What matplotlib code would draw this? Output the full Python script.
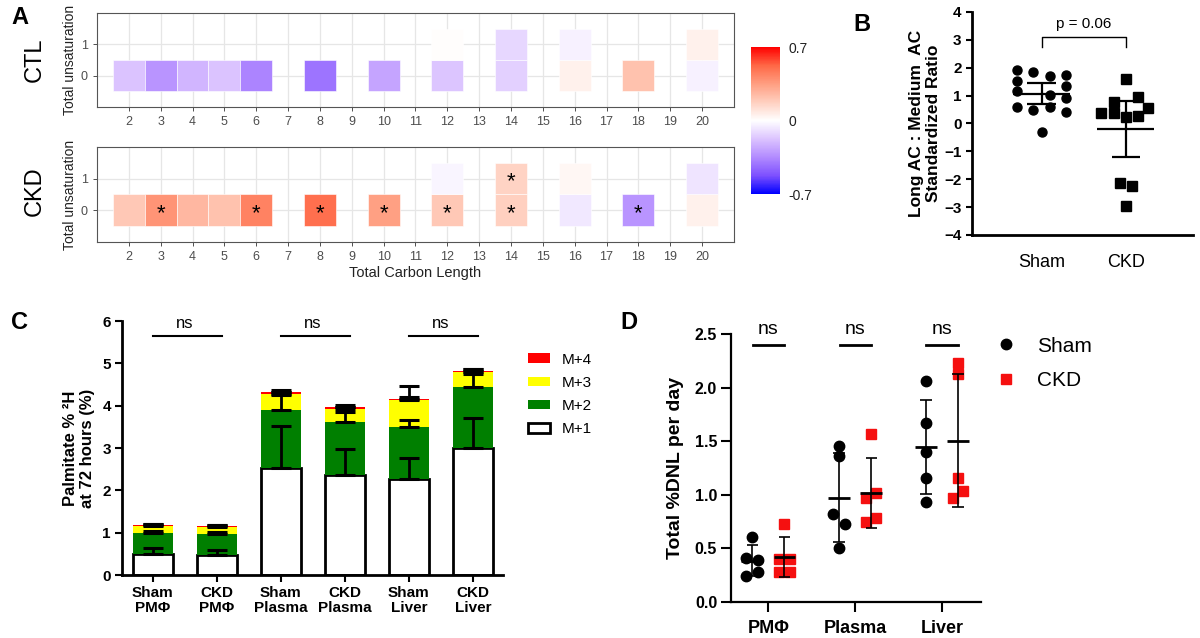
import numpy as np
import matplotlib
matplotlib.use("Agg")
import matplotlib.pyplot as plt
from matplotlib.colors import LinearSegmentedColormap, Normalize
from matplotlib.cm import ScalarMappable
from matplotlib.patches import Patch
from matplotlib.lines import Line2D

plt.rcParams['font.family'] = ['Liberation Sans', 'DejaVu Sans']

# ---- A: acylcarnitine fold change heatmaps (CTL / CKD)
carbon = [2, 3, 4, 5, 6, 8, 10, 12, 14, 16, 18, 20]
carbon_unsat = [12, 14, 16, 20]
ctl_sat = [-0.18, -0.32, -0.22, -0.18, -0.37, -0.42, -0.27, -0.17, -0.14, 0.05, 0.22, -0.04]
ctl_unsat = [0.01, -0.12, -0.04, 0.05]
ckd_sat = [0.20, 0.38, 0.26, 0.22, 0.44, 0.50, 0.34, 0.20, 0.17, -0.07, -0.32, 0.05]
ckd_unsat = [-0.03, 0.16, 0.03, -0.08]
ckd_star_sat = [3, 6, 8, 10, 12, 14, 18]
ckd_star_unsat = [14]

# ---- B: long / medium AC ratio
sham_ratio = [1.92, 1.86, 1.72, 1.74, 1.54, 1.36, 1.18, 1.03, 0.92, 0.60, 0.50, 0.58, 0.42, -0.32]
sham_jit = [-0.29, -0.11, 0.10, 0.29, -0.29, 0.29, -0.29, 0.10, 0.29, -0.29, -0.11, 0.10, 0.29, 0.0]
ckd_ratio = [1.60, 0.76, 0.96, 0.37, 0.37, 0.57, 0.24, 0.27, -2.14, -2.24, -2.95]
ckd_jit = [0.0, -0.14, 0.14, -0.29, -0.14, 0.27, 0.0, 0.14, -0.07, 0.07, 0.0]
t_crit = [2.160, 2.228]  # t(0.975, n-1) for n=14, n=11 -> 95% CI

# ---- C: palmitate 2H isotopologues
groups_c = ['Sham\nPMΦ', 'CKD\nPMΦ', 'Sham\nPlasma', 'CKD\nPlasma', 'Sham\nLiver', 'CKD\nLiver']
m1 = [0.50, 0.47, 2.54, 2.36, 2.26, 2.99]
m2 = [0.50, 0.51, 1.36, 1.26, 1.24, 1.46]
m3 = [0.16, 0.16, 0.37, 0.30, 0.63, 0.34]
m4 = [0.02, 0.02, 0.06, 0.06, 0.04, 0.04]
m1_err = [0.15, 0.12, 0.98, 0.62, 0.51, 0.71]
m2_err = [0.05, 0.04, 0.35, 0.24, 0.16, 0.29]
m3_err = [0.05, 0.04, 0.05, 0.05, 0.07, 0.07]
m4_err = [0.03, 0.03, 0.04, 0.03, 0.30, 0.03]

# ---- D: total DNL per day
tissues = ['PMΦ', 'Plasma', 'Liver']
sham_dnl = [[0.61, 0.41, 0.39, 0.245, 0.28],
            [1.46, 1.36, 0.82, 0.73, 0.50],
            [2.06, 1.67, 1.40, 1.16, 0.93]]
ckd_dnl = [[0.73, 0.40, 0.40, 0.28, 0.28],
           [1.57, 0.97, 1.02, 0.75, 0.78],
           [2.23, 2.13, 1.16, 0.97, 1.04]]
sham_jit_d = [[0, -0.07, 0.07, -0.07, 0.07], [0, 0, -0.07, 0.07, 0], [0, 0, 0, 0, 0]]
ckd_jit_d = [[0, -0.06, 0.06, -0.06, 0.06], [0, -0.06, 0.06, -0.06, 0.06], [0, 0, 0, -0.06, 0.06]]

fig = plt.figure(figsize=(12, 6.38), dpi=100)

# ggplot-like gradient2 (lab interpolated) blue-white-red
cmap = LinearSegmentedColormap.from_list('bwr_lab', [
    (0.0, '#0000FF'), (0.125, '#7E51FF'), (0.25, '#B28BFF'), (0.375, '#DCC4FF'),
    (0.5, '#FFFFFF'), (0.625, '#FFCFBF'), (0.75, '#FF9E81'), (0.875, '#FF6846'), (1.0, '#FF0000')])
norm = Normalize(-0.7, 0.7)


def heat(ax, sat, unsat, stars_sat, stars_unsat, show_xlabel):
    ax.bar(carbon, [1] * len(carbon), 1, bottom=-0.5, color=cmap(norm(np.array(sat))),
           edgecolor='white', linewidth=0.4, zorder=2)
    ax.bar(carbon_unsat, [1] * len(carbon_unsat), 1, bottom=0.5, color=cmap(norm(np.array(unsat))),
           edgecolor='white', linewidth=0.4, zorder=2)
    for c in stars_sat:
        ax.text(c, -0.1, '*', ha='center', va='center', fontsize=16, zorder=3)
    for c in stars_unsat:
        ax.text(c, 0.9, '*', ha='center', va='center', fontsize=16, zorder=3)
    ax.set_xlim(1, 21)
    ax.set_ylim(-1, 2)
    ax.set_xticks(range(2, 21))
    ax.set_yticks([0, 1])
    ax.grid(color='#E6E6E6', lw=0.9)
    ax.set_axisbelow(True)
    for s in ax.spines.values():
        s.set_color('#555555')
        s.set_linewidth(0.8)
    ax.tick_params(colors='#333333', labelcolor='#4D4D4D', length=3, width=0.6, labelsize=9)
    ax.set_ylabel('Total unsaturation', fontsize=10, color='#222222', labelpad=3)
    if show_xlabel:
        ax.set_xlabel('Total Carbon Length', fontsize=10.5, color='#222222', labelpad=2)


axA1 = fig.add_axes([0.0808, 0.8323, 0.5308, 0.1473])
heat(axA1, ctl_sat, ctl_unsat, [], [], False)
axA2 = fig.add_axes([0.0808, 0.6207, 0.5308, 0.1489])
heat(axA2, ckd_sat, ckd_unsat, ckd_star_sat, ckd_star_unsat, True)
fig.text(0.029, 0.906, 'CTL', rotation=90, fontsize=17, ha='center', va='center')
fig.text(0.029, 0.700, 'CKD', rotation=90, fontsize=17, ha='center', va='center')

cax = fig.add_axes([0.6258, 0.6959, 0.0242, 0.2304])
cb = fig.colorbar(ScalarMappable(norm=norm, cmap=cmap), cax=cax, ticks=[-0.7, 0, 0.7])
cb.outline.set_visible(False)
cb.ax.set_yticklabels(['-0.7', '0', '0.7'])
cax.tick_params(length=0, labelsize=10, labelcolor='#222222', pad=6)

# ---- B
axB = fig.add_axes([0.81, 0.6317, 0.1842, 0.3495])
for i, (vals, jit, mk) in enumerate([(sham_ratio, sham_jit, 'o'), (ckd_ratio, ckd_jit, 's')]):
    v = np.array(vals)
    axB.plot(i + np.array(jit), v, mk, color='black', ms=6.5, ls='none', zorder=2)
    m = v.mean()
    ci = t_crit[i] * v.std(ddof=1) / np.sqrt(len(v))
    axB.hlines(m, i - 0.34, i + 0.34, color='black', lw=1.6, zorder=3)
    axB.vlines(i, m - ci, m + ci, color='black', lw=1.6, zorder=3)
    axB.hlines([m - ci, m + ci], i - 0.17, i + 0.17, color='black', lw=1.6, zorder=3)
axB.plot([0, 0, 1, 1], [2.76, 3.11, 3.11, 2.76], color='black', lw=1)
axB.text(0.5, 3.32, 'p = 0.06', ha='center', va='bottom', fontsize=11)
axB.set_xlim(-0.83, 1.80)
axB.set_ylim(-4, 4)
axB.set_yticks(range(-4, 5))
axB.set_xticks([0, 1])
axB.set_xticklabels(['Sham', 'CKD'], fontsize=13)
axB.tick_params(axis='x', length=0, pad=14)
axB.tick_params(axis='y', length=4, width=1.5, labelsize=11)
for lab in axB.get_yticklabels():
    lab.set_fontweight('bold')
for s in ['top', 'right']:
    axB.spines[s].set_visible(False)
for s in ['left', 'bottom']:
    axB.spines[s].set_linewidth(2)
axB.set_ylabel('Long AC : Medium  AC\nStandardized Ratio', fontsize=12.5, fontweight='bold',
               labelpad=2, linespacing=1.2)

# ---- C
axC = fig.add_axes([0.1017, 0.0987, 0.3175, 0.3981])
xc = np.arange(len(groups_c))
bottom = np.zeros(len(groups_c))
layers = [(m1, m1_err, 'white', 'M+1'), (m2, m2_err, '#007F00', 'M+2'),
          (m3, m3_err, '#FFFF00', 'M+3'), (m4, m4_err, '#FF0000', 'M+4')]
for vals, errs, col, lab in layers:
    vals = np.array(vals)
    if lab == 'M+1':
        axC.bar(xc, vals, 0.62, bottom=bottom, color=col, edgecolor='black', linewidth=2, zorder=2)
    else:
        axC.bar(xc, vals, 0.62, bottom=bottom, color=col, linewidth=0, zorder=2)
    bottom = bottom + vals
    axC.errorbar(xc, bottom, yerr=[np.zeros(len(xc)), errs], fmt='none', ecolor='black',
                 elinewidth=2, capsize=7, capthick=2.2, zorder=3)
for a in [0, 2, 4]:
    axC.plot([a, a + 1.08], [5.65, 5.65], color='black', lw=1.5, clip_on=False)
    axC.text(a + 0.5, 5.84, 'ns', ha='center', va='baseline', fontsize=12)
axC.set_xlim(-0.48, 5.47)
axC.set_ylim(0, 6)
axC.set_xticks(xc)
axC.set_xticklabels(groups_c, fontsize=11, fontweight='bold', linespacing=1.05)
axC.set_yticks(range(0, 7))
axC.tick_params(length=5, width=1.5, labelsize=11, pad=3)
for lab in axC.get_yticklabels():
    lab.set_fontweight('bold')
for s in ['top', 'right']:
    axC.spines[s].set_visible(False)
for s in ['left', 'bottom']:
    axC.spines[s].set_linewidth(2)
axC.set_ylabel('Palmitate % ²H\nat 72 hours (%)', fontsize=12, fontweight='bold',
               labelpad=5, linespacing=1.2)
handles = [Patch(facecolor=col, edgecolor='black' if lab == 'M+1' else col, linewidth=2 if lab == 'M+1' else 0, label=lab)
           for vals, errs, col, lab in layers[::-1]]
axC.legend(handles=handles, loc='upper left', bbox_to_anchor=(1.03, 0.93), frameon=False,
           fontsize=11, handlelength=1.4, handleheight=0.6, labelspacing=0.6, handletextpad=0.8)

# ---- D
axD = fig.add_axes([0.6092, 0.0564, 0.2083, 0.42])
for i in range(len(tissues)):
    for vals, jit, off, mk, col in [(sham_dnl[i], sham_jit_d[i], -0.185, 'o', 'black'),
                                    (ckd_dnl[i], ckd_jit_d[i], 0.185, 's', '#F51010')]:
        v = np.array(vals)
        axD.plot(i + off + np.array(jit), v, mk, color=col, ms=7.5, ls='none', zorder=2)
        m = v.mean()
        sd = v.std(ddof=1)
        axD.hlines(m, i + off - 0.125, i + off + 0.125, color='black', lw=2, zorder=3)
        axD.vlines(i + off, m - sd, m + sd, color='black', lw=1.2, zorder=3)
        axD.hlines([m - sd, m + sd], i + off - 0.065, i + off + 0.065, color='black', lw=1.2, zorder=3)
    axD.plot([i - 0.18, i + 0.18], [2.4, 2.4], color='black', lw=2, clip_on=False)
    axD.text(i, 2.50, 'ns', ha='center', va='baseline', fontsize=14)
axD.set_xlim(-0.43, 2.45)
axD.set_ylim(0, 2.5)
axD.set_yticks(np.arange(0, 2.51, 0.5))
axD.set_yticklabels(['%.1f' % t for t in np.arange(0, 2.51, 0.5)])
axD.set_xticks(range(len(tissues)))
axD.set_xticklabels(tissues, fontsize=13, fontweight='bold')
axD.tick_params(length=7, width=1.5, labelsize=11.5, pad=3)
axD.tick_params(axis='x', labelsize=13, pad=6)
for lab in axD.get_yticklabels():
    lab.set_fontweight('bold')
for s in ['top', 'right']:
    axD.spines[s].set_visible(False)
for s in ['left', 'bottom']:
    axD.spines[s].set_linewidth(1.6)
axD.set_ylabel('Total %DNL per day', fontsize=14, fontweight='bold', labelpad=8)
leg_d = [Line2D([], [], marker='o', color='black', ls='none', ms=7.5, label='Sham'),
         Line2D([], [], marker='s', color='#F51010', ls='none', ms=7.5, label='CKD')]
axD.legend(handles=leg_d, loc='upper left', bbox_to_anchor=(0.975, 1.06), frameon=False,
           fontsize=15, handlelength=1.2, handletextpad=0.9, labelspacing=0.75)

# panel letters
fig.text(0.017, 0.973, 'A', fontsize=17, fontweight='bold', ha='center', va='center')
fig.text(0.718, 0.961, 'B', fontsize=17, fontweight='bold', ha='center', va='center')
fig.text(0.016, 0.495, 'C', fontsize=17, fontweight='bold', ha='center', va='center')
fig.text(0.524, 0.494, 'D', fontsize=17, fontweight='bold', ha='center', va='center')

fig.savefig('out.png', dpi=100)
